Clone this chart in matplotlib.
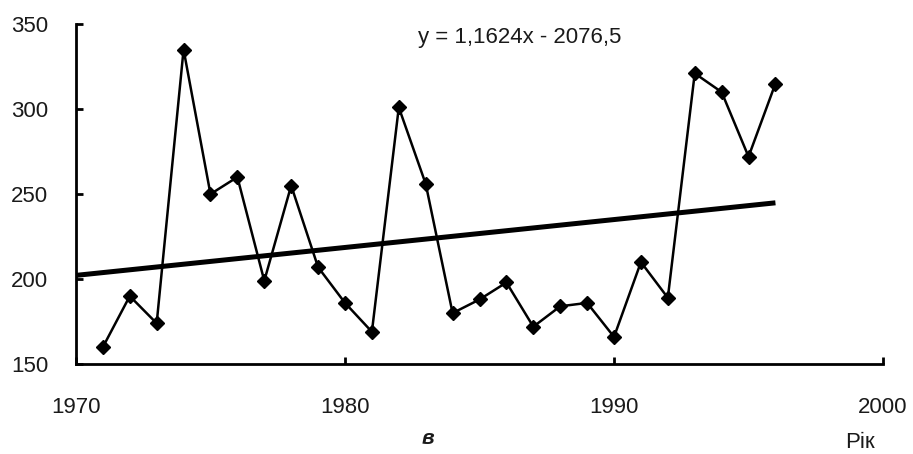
import numpy as np
import matplotlib
matplotlib.use("Agg")
import matplotlib.pyplot as plt

# values
years = [1971, 1972, 1973, 1974, 1975, 1976, 1977, 1978, 1979, 1980, 1981, 1982, 1983,
         1984, 1985, 1986, 1987, 1988, 1989, 1990, 1991, 1992, 1993, 1994, 1995, 1996]
values = [160, 190, 174, 335, 250, 260, 199, 255, 207, 186, 169, 301, 256,
          180, 188, 198, 172, 184, 186, 166, 210, 189, 321, 310, 272, 315]
x_ticks = [1970, 1980, 1990, 2000]
y_ticks = [150, 200, 250, 300, 350]
equation = "y = 1,1624x - 2076,5"

plt.rcParams["font.family"] = ["Liberation Sans", "DejaVu Sans"]
txt_color = "#1a1a1a"

fig = plt.figure(figsize=(9.13, 4.54), dpi=100)
ax = fig.add_axes([0.0832, 0.198, 0.884, 0.749])

ax.plot(years, values, color="black", lw=1.8, marker="D", markersize=7.5,
        markerfacecolor="black", markeredgecolor="black", zorder=3)

# linear trend, extended back to the axis start
k, b = np.polyfit(years, values, 1)
tx = np.array([x_ticks[0], years[-1]])
ax.plot(tx, k * tx + b, color="black", lw=3.6, solid_capstyle="butt", zorder=2)

ax.set_xlim(x_ticks[0], x_ticks[-1])
ax.set_ylim(y_ticks[0], y_ticks[-1])
ax.set_xticks(x_ticks)
ax.set_yticks(y_ticks)
for s in ["top", "right"]:
    ax.spines[s].set_visible(False)
for s in ["left", "bottom"]:
    ax.spines[s].set_linewidth(2)
    ax.spines[s].set_color("black")
ax.tick_params(axis="both", direction="in", length=5, width=2, labelsize=16,
               labelcolor=txt_color)
ax.tick_params(axis="x", pad=24)
ax.tick_params(axis="y", pad=20)

fig.text(520 / 913, 1 - 37 / 454, equation, fontsize=16, color=txt_color,
         ha="center", va="center")
fig.text(428 / 913, 1 - 438 / 454, "в", fontsize=15, fontweight="bold",
         fontstyle="italic", ha="center", va="center", color=txt_color)
fig.text(860 / 913, 1 - 443 / 454, "Рік", fontsize=16, ha="center", va="center",
         color=txt_color)

fig.savefig("out.png", dpi=100)
